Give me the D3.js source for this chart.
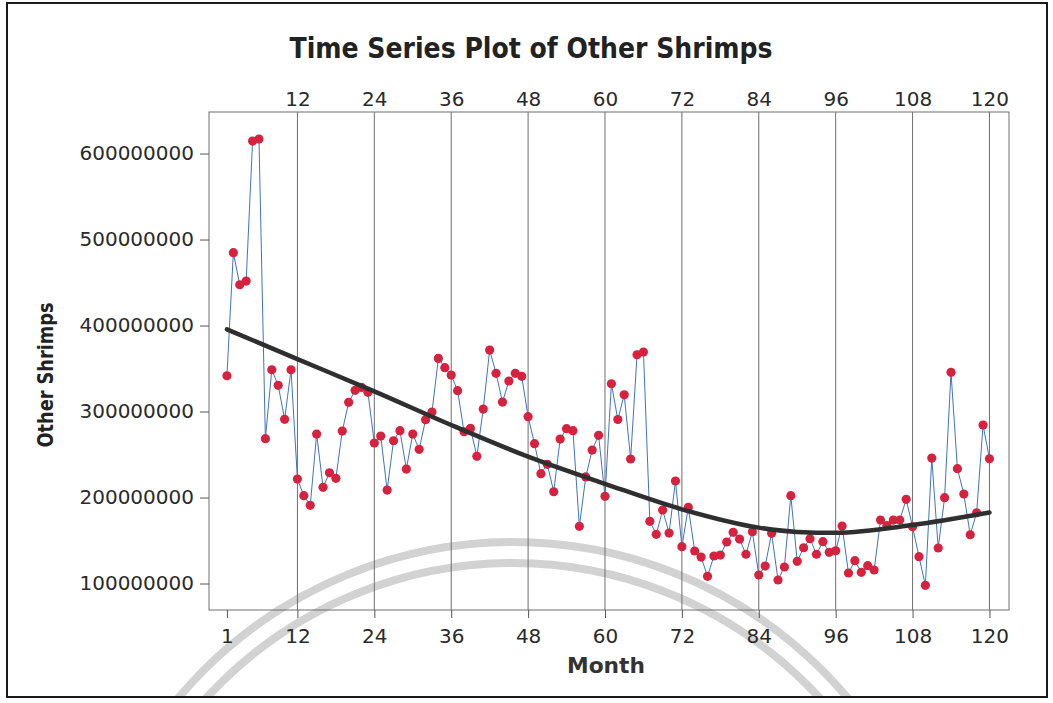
<!DOCTYPE html>
<html><head><meta charset="utf-8">
<script src="https://cdn.jsdelivr.net/npm/d3@7"></script>
<style>body{margin:0;background:#fff} svg{display:block}</style>
</head><body>
<svg id="chart" width="1053" height="703"></svg>
<script>
// ---- data ----
const months = d3.range(1, 121);
const values = [
 341.6e6,484.7e6,447.4e6,451.7e6,614.5e6,616.9e6,268.4e6,348.6e6,330.5e6,290.9e6,
 348.6e6,221.5e6,202.1e6,190.9e6,273.8e6,211.8e6,228.8e6,222.3e6,277.3e6,310.7e6,
 324.6e6,328.0e6,322.3e6,263.4e6,271.5e6,208.7e6,266.0e6,277.7e6,233.1e6,273.8e6,
 256.0e6,290.5e6,299.4e6,361.8e6,351.0e6,342.4e6,324.2e6,276.5e6,280.4e6,247.9e6,
 302.9e6,371.5e6,344.4e6,311.0e6,335.5e6,344.4e6,340.9e6,294.0e6,262.6e6,227.7e6,
 238.6e6,206.7e6,268.0e6,280.0e6,277.7e6,166.5e6,224.0e6,255.2e6,272.3e6,201.4e6,
 332.3e6,290.7e6,319.5e6,244.8e6,366.0e6,369.2e6,172.3e6,157.2e6,185.5e6,158.7e6,
 219.2e6,142.8e6,188.6e6,137.8e6,130.8e6,108.4e6,132.0e6,133.1e6,148.3e6,159.5e6,
 151.7e6,134.0e6,160.2e6,109.9e6,120.3e6,158.4e6,104.1e6,119.2e6,202.1e6,125.8e6,
 141.6e6,152.1e6,134.0e6,148.6e6,136.3e6,138.1e6,166.9e6,112.2e6,126.5e6,113.0e6,
 120.7e6,115.7e6,173.8e6,167.2e6,173.8e6,173.8e6,197.9e6,166.0e6,131.2e6,97.9e6,
 245.9e6,141.3e6,199.8e6,345.6e6,233.5e6,204.1e6,156.7e6,182.3e6,284.3e6,245.1e6
];
const trendMonths = [1, 12, 24, 36, 48, 60, 72, 84, 90, 96, 108, 120];
const trendValues = [395.6e6, 361e6, 323.5e6, 284.3e6, 247.5e6, 216e6, 186.3e6, 165e6, 160e6, 159e6, 168e6, 182.5e6];
const xTicksBottom = [1, 12, 24, 36, 48, 60, 72, 84, 96, 108, 120];
const xTicksTop = [12, 24, 36, 48, 60, 72, 84, 96, 108, 120];
const yTicks = [100000000, 200000000, 300000000, 400000000, 500000000, 600000000];
const title = "Time Series Plot of Other Shrimps";
const xLabel = "Month";
const yLabel = "Other Shrimps";

// ---- layout ----
const svg = d3.select("#chart");
const FONT = "DejaVu Sans, Verdana, sans-serif";
const x = d3.scaleLinear().domain([-1.8, 123.05]).range([209, 1009]);
const y = d3.scaleLinear().domain([69.2e6, 648.3e6]).range([610, 112]);
const [L, R] = x.range();
const [B, T] = y.range();

// clip for watermark (scanned seal behind the chart)
svg.append("clipPath").attr("id", "pg").append("rect")
  .attr("x", 7).attr("y", 3).attr("width", 1040).attr("height", 694);
const wm = svg.append("g").attr("clip-path", "url(#pg)");
wm.append("circle").attr("cx", 513).attr("cy", 979).attr("r", 437)
  .attr("fill", "none").attr("stroke", "#d2d2d2").attr("stroke-width", 8);
wm.append("circle").attr("cx", 513).attr("cy", 979).attr("r", 416)
  .attr("fill", "none").attr("stroke", "#d2d2d2").attr("stroke-width", 8);

// outer border
svg.append("rect").attr("x", 7).attr("y", 3).attr("width", 1040).attr("height", 694)
  .attr("fill", "none").attr("stroke", "#1a1a1a").attr("stroke-width", 2);

// gridlines
svg.append("g").selectAll("line").data(xTicksTop).join("line")
  .attr("x1", d => x(d)).attr("x2", d => x(d))
  .attr("y1", T).attr("y2", B)
  .attr("stroke", "#6e6e6e").attr("stroke-width", 1);

// frame
svg.append("rect").attr("x", L).attr("y", T).attr("width", R - L).attr("height", B - T)
  .attr("fill", "none").attr("stroke", "#6e6e6e").attr("stroke-width", 1);

function styleAxis(g) {
  g.select(".domain").remove();
  g.selectAll("line").attr("stroke", "#555");
  g.selectAll("text").attr("font-family", FONT).attr("font-size", 20).attr("fill", "#2a2a2a");
}

svg.append("g").attr("transform", `translate(0,${B})`)
  .call(d3.axisBottom(x).tickValues(xTicksBottom).tickSize(8).tickPadding(11).tickFormat(d3.format("d")))
  .call(styleAxis);
svg.append("g").attr("transform", `translate(0,${T})`)
  .call(d3.axisTop(x).tickValues(xTicksTop).tickSize(0).tickPadding(6).tickFormat(d3.format("d")))
  .call(styleAxis);
svg.append("g").attr("transform", `translate(${L},0)`)
  .call(d3.axisLeft(y).tickValues(yTicks).tickSize(9).tickPadding(6).tickFormat(d3.format("d")))
  .call(styleAxis);

// data line
const data = months.map((m, i) => ({m, v: values[i]}));
svg.append("path").datum(data)
  .attr("fill", "none").attr("stroke", "#3f72c6").attr("stroke-width", 1)
  .attr("d", d3.line().x(d => x(d.m)).y(d => y(d.v)));

svg.append("g").selectAll("circle").data(data).join("circle")
  .attr("cx", d => x(d.m)).attr("cy", d => y(d.v)).attr("r", 4.6)
  .attr("fill", "#d6223e");

// trend
const trend = trendMonths.map((m, i) => ({m, v: trendValues[i]}));
svg.append("path").datum(trend)
  .attr("fill", "none").attr("stroke", "#2f2f2f").attr("stroke-width", 4.5)
  .attr("stroke-linecap", "round")
  .attr("d", d3.line().curve(d3.curveMonotoneX).x(d => x(d.m)).y(d => y(d.v)));

// titles
svg.append("text").attr("x", 531).attr("y", 58).attr("text-anchor", "middle")
  .attr("font-family", FONT).attr("font-weight", "bold").attr("font-size", 28)
  .attr("fill", "#222").attr("textLength", 483).attr("lengthAdjust", "spacingAndGlyphs")
  .text(title);
svg.append("text").attr("x", (L + R) / 2 - 3).attr("y", 673).attr("text-anchor", "middle")
  .attr("font-family", FONT).attr("font-weight", "bold").attr("font-size", 21)
  .attr("fill", "#333").attr("textLength", 78).attr("lengthAdjust", "spacingAndGlyphs")
  .text(xLabel);
svg.append("text").attr("transform", "translate(53,375) rotate(-90)").attr("text-anchor", "middle")
  .attr("font-family", FONT).attr("font-weight", "bold").attr("font-size", 21)
  .attr("fill", "#222").attr("textLength", 145).attr("lengthAdjust", "spacingAndGlyphs")
  .text(yLabel);
</script>
</body></html>
